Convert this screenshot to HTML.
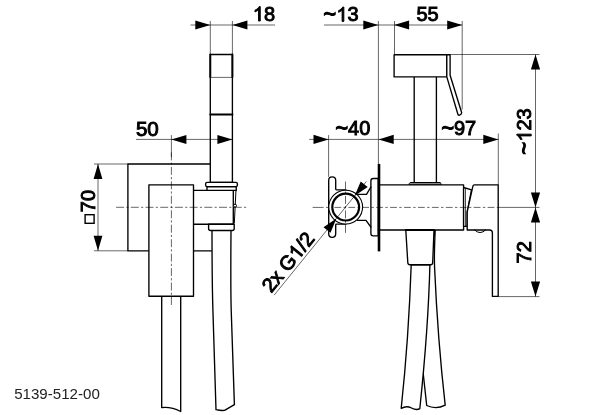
<!DOCTYPE html>
<html><head><meta charset="utf-8">
<style>
html,body{margin:0;padding:0;background:#fff;}
body{width:614px;height:415px;overflow:hidden;}
svg{display:block;will-change:transform;filter:grayscale(1);}
text{font-family:"Liberation Sans",sans-serif;fill:#000;}
.d{font-size:20px;stroke:#000;stroke-width:0.95px;}
.tl{font-size:21.5px;stroke-width:1.25px;}
.k{stroke:#000;stroke-width:1.35;fill:none;stroke-linejoin:round;stroke-linecap:round;}
.kw{stroke:#000;stroke-width:1.35;fill:#fff;stroke-linejoin:round;stroke-linecap:round;}
.t{stroke:#000;stroke-width:0.6;fill:none;}
.c{stroke:#000;stroke-width:0.6;fill:none;stroke-dasharray:8 2.25 2.2 2.25;}
.a{fill:#000;stroke:none;}
</style></head><body>
<svg width="614" height="415" viewBox="0 0 614 415">
<rect width="614" height="415" fill="#fff"/>

<!-- ================= LEFT VIEW ================= -->
<!-- back plate -->
<path class="k" d="M210.3 164H127.9V250.8H148.9M193.5 250.8H212"/>
<!-- hose from handle -->
<path class="kw" d="M212 230.4C212 270 212.3 290 212.9 310L216 409.7Q221 410.9 224.6 410.4L234.4 404.6L231.2 310C230.6 290 230.7 270 231 230.4Z"/>
<!-- hose under front body -->
<path class="kw" d="M161.7 296.2V407.6Q171 406.5 180.7 411.5V296.2Z"/>
<!-- holder -->
<path class="kw" d="M193.5 190.4H233.3V224.2H193.5"/>
<path class="kw" d="M208.6 224.2H234.2V228.5Q234.2 230.5 232.2 230.5H210.6Q208.6 230.5 208.6 228.5Z"/>
<path class="t" d="M236.1 187.5L234.3 223.5" style="stroke-width:1"/>
<!-- front body -->
<rect class="kw" x="148.9" y="184.8" width="44.6" height="111.4"/>
<!-- handle -->
<rect class="kw" x="210.3" y="54.5" width="22.1" height="128"/>
<path class="t" d="M210.3 77.4H232.4"/>
<path class="k" d="M210.3 114.6H232.4" style="stroke-width:2"/>
<path class="k" d="M210.3 54.5V77M232.4 54.5V77" style="stroke-width:1.9"/>
<!-- collar -->
<rect class="kw" x="205.6" y="182.4" width="31.8" height="4.3" rx="1.6"/>
<path class="kw" d="M207 186.7H236.2V190.4H207Z"/>
<circle cx="235" cy="205.7" r="1.5" fill="#fff" stroke="#000" stroke-width="1"/>

<!-- centerlines -->
<path class="c" d="M116.1 207.3H246.3"/>
<path class="t" d="M171.4 135.1V157"/>
<path class="c" d="M171.4 152.4V305" style="stroke-dasharray:8 2.13 2.2 2.13"/>

<!-- dim 18 -->
<path class="t" d="M190.5 25H275M210.3 21V54.5M232.4 21V54.5"/>
<path class="a" d="M210.3 25L195.3 20.5V29.5ZM232.4 25L247.4 20.5V29.5Z"/>
<path transform="translate(252.8 21) scale(0.009766 -0.009766)" fill="#000" stroke="#000" stroke-width="97" d="M763 0H583V1147Q518 1085 412.5 1023Q307 961 223 930V1104Q374 1175 487 1276Q600 1377 647 1472H763Z"/><text class="d" x="263.9" y="21">8</text>
<!-- dim 50 -->
<path class="t" d="M136 139.4H232.4"/>
<path class="a" d="M171.4 139.4L186.4 134.9V143.9ZM232.4 139.4L217.4 134.9V143.9Z"/>
<text class="d" x="135.9" y="135.5" style="font-size:20.6px">50</text>
<!-- dim 70 -->
<path class="t" d="M94 164H128M94 250.8H128M98 164V250.8"/>
<path class="a" d="M98 164L93.6 179H102.4ZM98 250.8L93.6 235.8H102.4Z"/>
<rect x="85.1" y="214.7" width="9" height="8.6" fill="none" stroke="#000" stroke-width="1.4"/>
<text class="d" transform="translate(94.7 212.2) rotate(-90)">70</text>

<text x="14.2" y="399.2" style="font-size:15.1px;fill:#222">5139-512-00</text>

<!-- ================= RIGHT VIEW ================= -->
<!-- hoses -->
<path class="kw" d="M435.2 230Q434 255 434.6 268C436 300 439.5 355 445.2 405.1Q436 409.8 426.7 405.5L415.2 300Z"/>
<path class="kw" d="M411.2 264.7C410 300 408 345 401.2 408.4Q406.5 405.4 411.5 408Q416.5 410.6 419.8 408.7C426 350 429 300 429.9 264.7Z"/>
<!-- outlet -->
<path class="kw" d="M405.8 230.1L407.8 262.7Q408 264.7 410 264.7H430.6Q432.6 264.7 432.7 262.7L434 230.1Z"/>
<!-- stem -->
<path class="k" d="M414.2 76.9V182.5M436.4 76.9V182.5"/>
<path d="M409.3 185V183.4L410.2 182.5H440.1L441 183.4V185Z" fill="#8a8a8a" stroke="#000" stroke-width="1" stroke-linejoin="round"/>
<!-- spray head -->
<rect class="kw" x="394.1" y="54.7" width="52.7" height="22.2"/>
<path class="kw" d="M446.8 54.7H450.1V75.2L461.7 112.8Q461.6 114.4 459.6 115.2Q458.2 115.3 457.9 114.2L446.8 76.9Z"/>
<!-- body -->
<rect class="kw" x="379" y="184.9" width="84.6" height="45.1"/>
<path class="k" d="M405.8 230.1H434" style="stroke-width:2"/>
<!-- cartridge -->
<path class="kw" d="M463.6 187.5L471.5 189.9L467.2 211.8V226.4H463.6Z"/>
<path class="t" d="M465.5 188.2V226.4" style="stroke-width:0.7"/>
<!-- lever -->
<path class="kw" d="M474.4 184.9H498.2V296.4H492.4V233Q492.4 230 489.6 230H467.2V211.8L472.9 186.2Q473.2 184.9 474.4 184.9Z"/>
<path class="k" d="M474.6 230Q480 235.4 485.6 230" style="stroke-width:1"/>
<!-- wall flange -->
<path class="kw" d="M378.2 178.5H373.2Q370.9 178.5 370.9 180.8V233.6Q370.9 235.9 373.2 235.9H378.2Z"/>
<path d="M379 163.9V251.4" stroke="#000" stroke-width="2.6" fill="none"/>
<!-- bracket -->
<path class="k" d="M328.7 180.4Q328.7 176.9 332.2 176.9Q335.7 176.9 335.7 180.4V189.1Q335.7 189.9 336.5 189.9H346M328.7 180.4V233.8Q328.7 237.3 332.2 237.3Q335.7 237.3 335.7 233.8V224.9Q335.7 224.1 336.5 224.1H346"/>
<path class="k" d="M357.5 194.3H366.5L370.9 187M357.5 220.3H366L370.9 227.2"/>
<!-- pipe circle -->
<circle cx="345.7" cy="207.1" r="16.9" fill="#fff" stroke="#000" stroke-width="1.1"/>
<circle cx="345.7" cy="207.1" r="13.4" fill="#fff" stroke="#000" stroke-width="2.2"/>
<!-- centerlines -->
<path class="t" d="M312.6 207.4H323.6M326 207.4H328.2M498.3 207.4H539.5"/>
<path class="c" d="M334.4 207.4H498.9" style="stroke-dasharray:6.8 2.35 2.4 2.38"/>
<path class="c" d="M345.5 181.5V232.9" style="stroke-dasharray:8 2.13 2.2 2.13"/>
<!-- leader -->
<path class="t" d="M274.1 295.2L366.4 181.4"/>
<path class="a" d="M354.7 195.8L367.7 187.0L360.7 181.4ZM336.4 218.4L330.5 232.8L323.5 227.2Z"/>
<g transform="translate(271.2 293.6) rotate(-50.9)"><text class="d"><tspan x="0">2x G</tspan><tspan x="53.5">/2</tspan></text><path transform="translate(42.4 0) scale(0.009766 -0.009766)" fill="#000" stroke="#000" stroke-width="97" d="M763 0H583V1147Q518 1085 412.5 1023Q307 961 223 930V1104Q374 1175 487 1276Q600 1377 647 1472H763Z"/></g>

<!-- top dims -->
<path class="t" d="M324 25H462.2M378.4 21V164M394.5 21V54.7M462.2 21V109.5"/>
<path class="a" d="M378.3 25L363.3 20.5V29.5ZM394.1 25L409.1 20.5V29.5ZM462.2 25L447.2 20.5V29.5Z"/>
<text class="d" y="21.4"><tspan class="tl" x="323.5" dy="-0.1">~</tspan><tspan x="347.5" dy="0.1">3</tspan></text><path transform="translate(336.4 21.4) scale(0.009766 -0.009766)" fill="#000" stroke="#000" stroke-width="97" d="M763 0H583V1147Q518 1085 412.5 1023Q307 961 223 930V1104Q374 1175 487 1276Q600 1377 647 1472H763Z"/>
<text class="d" x="416.4" y="21.4">55</text>
<!-- mid dims -->
<path class="t" d="M309.2 139.4H498.4M328.6 135.1V176.9M498.3 133.5V185"/>
<path class="a" d="M328.6 139.4L313.5 134.8V144ZM378.6 139.4L393.7 134.8V144ZM498.4 139.4L483.3 134.8V144Z"/>
<text class="d" y="134.9"><tspan class="tl" x="335.6" dy="-0.4">~</tspan><tspan x="348.1" dy="0.4">40</tspan></text>
<text class="d" y="134.9"><tspan class="tl" x="441.4" dy="-0.4">~</tspan><tspan x="453.9" dy="0.4">97</tspan></text>
<!-- right dims -->
<path class="t" d="M450.1 54.5H539.5M498.3 296.6H539.5M535.5 54.5V296.6"/>
<path class="a" d="M535.5 54.5L530.9 69.5H540.1ZM535.5 207.5L530.9 192.5H540.1ZM535.5 207.5L530.9 222.5H540.1ZM535.5 296.6L530.9 281.6H540.1Z"/>
<g transform="translate(531.2 154.6) rotate(-90)"><text class="d"><tspan class="tl" x="0" dy="-0.5">~</tspan><tspan x="24.1" dy="0.5">23</tspan></text><path transform="translate(13 0) scale(0.009766 -0.009766)" fill="#000" stroke="#000" stroke-width="97" d="M763 0H583V1147Q518 1085 412.5 1023Q307 961 223 930V1104Q374 1175 487 1276Q600 1377 647 1472H763Z"/></g>
<text class="d" transform="translate(531.1 263.4) rotate(-90)">72</text>
</svg>
</body></html>
